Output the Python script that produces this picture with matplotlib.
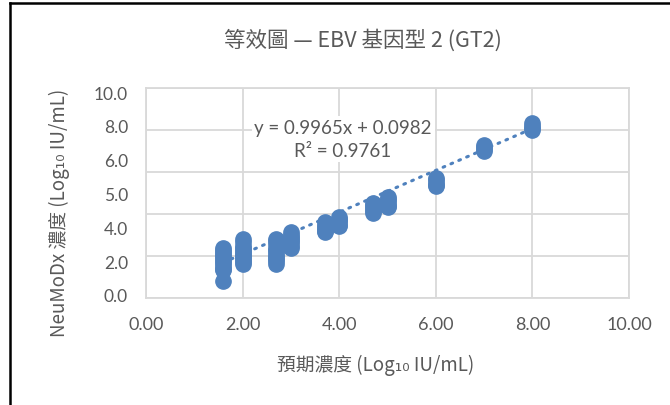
import matplotlib
matplotlib.use("Agg")
import matplotlib.pyplot as plt
from matplotlib.lines import Line2D
import numpy as np

# expected concentration (log10 IU/mL) and measured NeuMoDx values per level
levels = [1.6, 2.0, 2.7, 3.0, 3.7, 4.0, 4.7, 5.0, 6.0, 7.0, 8.0]
measured = [
    [2.38, 2.3, 2.2, 2.1, 2.0, 1.9, 1.8, 1.7, 1.6, 1.5, 1.4, 1.33, 0.82],
    [2.79, 2.65, 2.5, 2.4, 2.3, 2.2, 2.1, 2.0, 1.9, 1.8, 1.7, 1.64],
    [2.83, 2.7, 2.55, 2.4, 2.3, 2.2, 2.05, 1.95, 1.85, 1.75, 1.64],
    [3.12, 3.0, 2.9, 2.8, 2.7, 2.6, 2.5, 2.36],
    [3.6, 3.5, 3.4, 3.3, 3.2, 3.14],
    [3.86, 3.78, 3.7, 3.6, 3.5, 3.45],
    [4.52, 4.45, 4.35, 4.25, 4.15, 4.05],
    [4.81, 4.7, 4.6, 4.5, 4.4, 4.31],
    [5.71, 5.6, 5.5, 5.4, 5.31],
    [7.29, 7.2, 7.1, 6.98],
    [8.33, 8.2, 8.1, 8.0],
]
slope = 0.9965
intercept = 0.0982
r2 = 0.9761

xticks = [0, 2, 4, 6, 8, 10]
xticklabels = ["0.00", "2.00", "4.00", "6.00", "8.00", "10.00"]
ygrid = [0, 2, 4, 6, 8, 10]
yticklabels = ["0.0", "2.0", "4.0", "5.0", "6.0", "8.0", "10.0"]

latin = ["Lato", "Noto Sans CJK TC", "DejaVu Sans"]
cjk = ["Noto Sans CJK TC", "DejaVu Sans"]
grey = "#595959"
blue = "#4f81bd"

fig = plt.figure(figsize=(6.7, 4.06), dpi=100)
ax = fig.add_axes([146 / 670, 1 - 299 / 406, 483 / 670, 210 / 406])

xs = np.concatenate([[lv] * len(m) for lv, m in zip(levels, measured)])
ys = np.concatenate(measured)

# trendline over the data range
tx = np.linspace(min(levels), max(levels), 50)
ax.plot(tx, slope * tx + intercept, color=blue, lw=2.2,
        linestyle=(0, (0.6, 2.2)), dash_capstyle="round", zorder=2)
ax.plot(xs, ys, "o", color=blue, ms=11, mec=blue, zorder=3)

ax.set_xlim(0, 10)
ax.set_ylim(0, 10)
ax.set_xticks(xticks, xticklabels)
ax.set_yticks(ygrid, minor=True)
ax.set_yticks(np.linspace(0.15, 9.8, len(yticklabels)), yticklabels)
ax.grid(True, which="minor", axis="y", color="#d9d9d9", lw=1.3)
ax.grid(True, which="major", axis="x", color="#d9d9d9", lw=1.3)
ax.tick_params(which="both", length=0)
ax.tick_params(axis="y", pad=13, labelsize=12.5, labelcolor=grey)
ax.tick_params(axis="x", pad=13, labelsize=13, labelcolor=grey)
for lab in ax.get_xticklabels() + ax.get_yticklabels():
    lab.set_family(latin)
for sp in ax.spines.values():
    sp.set_color("#d9d9d9")
    sp.set_linewidth(1.3)
ax.set_axisbelow(True)

ax.text(0.408, 0.757, "y = 0.9965x + 0.0982\nR\u00b2 = " + f"{r2:.4f}",
        transform=ax.transAxes, ha="center", va="center", fontsize=13.5,
        color=grey, family=latin, linespacing=1.45, zorder=1,
        bbox=dict(facecolor="white", edgecolor="none", pad=2))

fig.text(363 / 670, 1 - 40 / 406, "等效圖 — EBV 基因型 2 (GT2)", ha="center",
         va="center", fontsize=15.5, color=grey, family=cjk)
fig.text(376 / 670, 1 - 365 / 406, "預期濃度 (Log\u2081\u2080 IU/mL)", ha="center",
         va="center", fontsize=13.5, color=grey, family=cjk)
fig.text(59 / 670, 1 - 213 / 406, "NeuMoDx 濃度 (Log\u2081\u2080 IU/mL)", ha="center",
         va="center", fontsize=13.5, color=grey, family=cjk, rotation=90)

# frame on top and left edges
fig.add_artist(Line2D([9.5 / 670, 1], [1 - 3.5 / 406] * 2, color="black", lw=1.8,
                      transform=fig.transFigure))
fig.add_artist(Line2D([9.5 / 670] * 2, [0, 1 - 3.5 / 406], color="black", lw=1.8,
                      transform=fig.transFigure))

fig.savefig("out.png", dpi=100)
